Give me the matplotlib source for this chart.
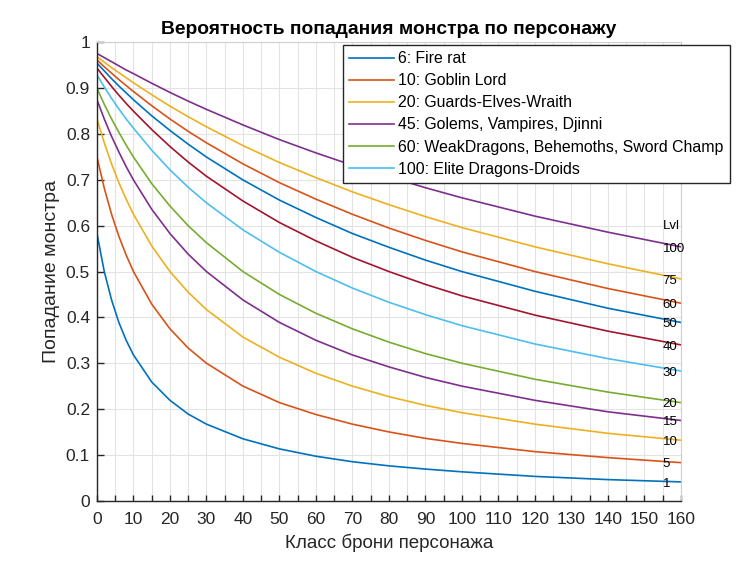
#!/usr/bin/env python3
"""Monster hit chance vs. character armour class, one curve per monster level."""

import matplotlib

matplotlib.use("Agg")
import matplotlib.pyplot as plt
from matplotlib.ticker import MultipleLocator

plt.rcParams["font.family"] = ["Liberation Sans", "DejaVu Sans"]

# armour class sample points
armor = [0, 2, 4, 6, 8, 10, 15, 20, 25, 30, 40, 50, 60, 70, 80, 90, 100, 120, 140, 160]

lvl_1 = [0.583, 0.500, 0.438, 0.389, 0.350, 0.318, 0.259, 0.219, 0.189, 0.167,
         0.135, 0.113, 0.097, 0.085, 0.076, 0.069, 0.063, 0.053, 0.046, 0.041]
lvl_5 = [0.750, 0.682, 0.625, 0.577, 0.536, 0.500, 0.429, 0.375, 0.333, 0.300,
         0.250, 0.214, 0.188, 0.167, 0.150, 0.136, 0.125, 0.107, 0.094, 0.083]
lvl_10 = [0.833, 0.781, 0.735, 0.694, 0.658, 0.625, 0.556, 0.500, 0.455, 0.417,
          0.357, 0.313, 0.278, 0.250, 0.227, 0.208, 0.192, 0.167, 0.147, 0.132]
lvl_15 = [0.875, 0.833, 0.795, 0.761, 0.729, 0.700, 0.636, 0.583, 0.538, 0.500,
          0.438, 0.389, 0.350, 0.318, 0.292, 0.269, 0.250, 0.219, 0.194, 0.175]
lvl_20 = [0.900, 0.865, 0.833, 0.804, 0.776, 0.750, 0.692, 0.643, 0.600, 0.563,
          0.500, 0.450, 0.409, 0.375, 0.346, 0.321, 0.300, 0.265, 0.237, 0.214]
lvl_30 = [0.929, 0.903, 0.878, 0.855, 0.833, 0.813, 0.765, 0.722, 0.684, 0.650,
          0.591, 0.542, 0.500, 0.464, 0.433, 0.406, 0.382, 0.342, 0.310, 0.283]
lvl_40 = [0.944, 0.924, 0.904, 0.885, 0.867, 0.850, 0.810, 0.773, 0.739, 0.708,
          0.654, 0.607, 0.567, 0.531, 0.500, 0.472, 0.447, 0.405, 0.370, 0.340]
lvl_50 = [0.955, 0.938, 0.921, 0.905, 0.890, 0.875, 0.840, 0.808, 0.778, 0.750,
          0.700, 0.656, 0.618, 0.583, 0.553, 0.525, 0.500, 0.457, 0.420, 0.389]
lvl_60 = [0.962, 0.947, 0.933, 0.919, 0.906, 0.893, 0.862, 0.833, 0.806, 0.781,
          0.735, 0.694, 0.658, 0.625, 0.595, 0.568, 0.543, 0.500, 0.463, 0.431]
lvl_75 = [0.969, 0.957, 0.945, 0.934, 0.923, 0.912, 0.886, 0.861, 0.838, 0.816,
          0.775, 0.738, 0.705, 0.674, 0.646, 0.620, 0.596, 0.554, 0.517, 0.484]
lvl_100 = [0.976, 0.967, 0.958, 0.949, 0.940, 0.932, 0.911, 0.891, 0.872, 0.854,
           0.820, 0.788, 0.759, 0.732, 0.707, 0.683, 0.661, 0.621, 0.586, 0.554]

levels = ["1", "5", "10", "15", "20", "30", "40", "50", "60", "75", "100"]
curves = [lvl_1, lvl_5, lvl_10, lvl_15, lvl_20, lvl_30, lvl_40, lvl_50, lvl_60,
          lvl_75, lvl_100]

legend_labels = ["6: Fire rat", "10: Goblin Lord", "20: Guards-Elves-Wraith",
                 "45: Golems, Vampires, Djinni",
                 "60: WeakDragons, Behemoths, Sword Champ",
                 "100: Elite Dragons-Droids"]

# MATLAB default colour order
colors = ["#0072BD", "#D95319", "#EDB120", "#7E2F8E", "#77AC30", "#4DBEEE",
          "#A2142F"]

ink = "#262626"

fig = plt.figure(figsize=(7.5, 5.62), dpi=100)
ax = fig.add_axes([0.1293, 0.1091, 0.7787, 0.8153])

lines = []
for i, (lvl, vals) in enumerate(zip(levels, curves)):
    ln, = ax.plot(armor, vals, color=colors[i % len(colors)], lw=1.2)
    lines.append(ln)
    ax.text(155, vals[-1] - 0.004, lvl, fontsize=9.5, color="black",
            ha="left", va="center")
ax.text(155, 0.600, "Lvl", fontsize=9.5, color="black", ha="left", va="center")

ax.set_xlim(0, 160)
ax.set_ylim(0, 1)
ax.xaxis.set_major_locator(MultipleLocator(10))
ax.xaxis.set_minor_locator(MultipleLocator(5))
ax.set_yticks([i / 10 for i in range(11)])
ax.set_yticklabels(["0", "0.1", "0.2", "0.3", "0.4", "0.5", "0.6", "0.7",
                    "0.8", "0.9", "1"])

ax.grid(True, which="both", axis="x", color="#e3e3e3", lw=0.8)
ax.grid(True, which="major", axis="y", color="#e3e3e3", lw=0.8)
ax.set_axisbelow(True)

ax.tick_params(axis="both", which="both", direction="in", colors=ink,
               labelsize=12.5, width=1.0)
ax.tick_params(axis="x", which="both", length=4.5, pad=8)
ax.tick_params(axis="y", which="major", length=5, pad=5)

for side in ("left", "bottom"):
    ax.spines[side].set_color(ink)
    ax.spines[side].set_linewidth(1.0)
for side in ("top", "right"):
    ax.spines[side].set_color("#cfcfcf")
    ax.spines[side].set_linewidth(0.8)

ax.set_title("Вероятность попадания монстра по персонажу", fontsize=13.9,
             fontweight="bold", pad=6)
ax.set_xlabel("Класс брони персонажа", fontsize=13.5, color=ink, labelpad=5)
ax.set_ylabel("Попадание монстра", fontsize=14, color=ink, labelpad=4)

leg = ax.legend(lines[:6], legend_labels, loc="upper left",
                bbox_to_anchor=(0.421, 0.995), borderaxespad=0, fontsize=11.4,
                handlelength=2.8, handletextpad=0.3, labelspacing=0.45,
                borderpad=0.4, fancybox=False, framealpha=1)
leg.get_frame().set_edgecolor(ink)
leg.get_frame().set_linewidth(1.0)

fig.savefig("out.png", dpi=100)
